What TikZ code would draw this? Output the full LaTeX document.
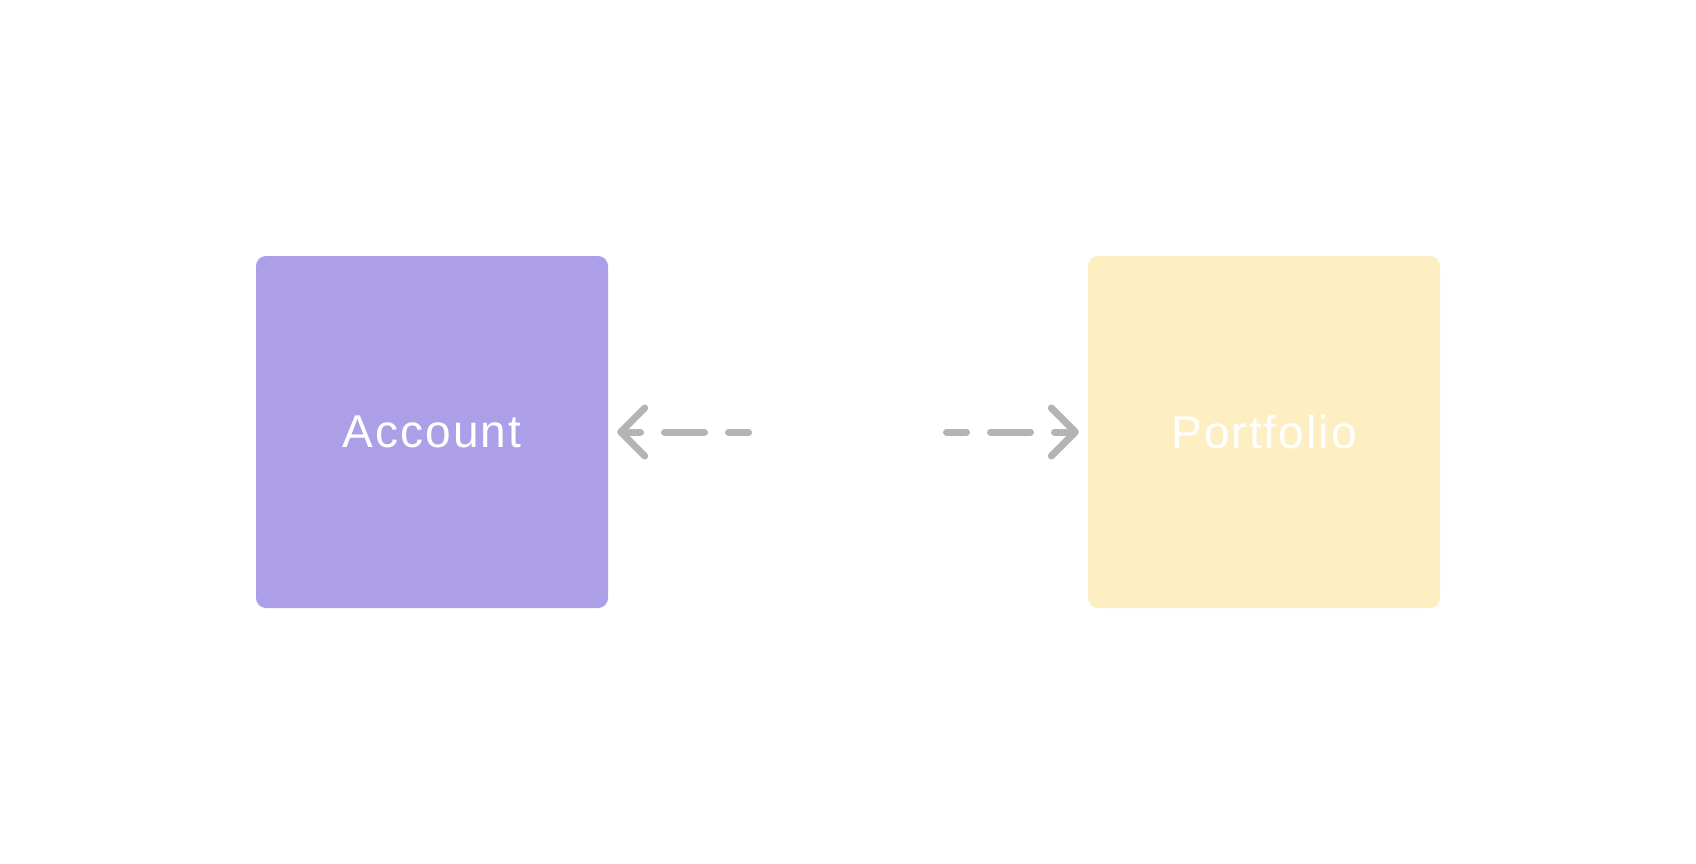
\documentclass[tikz,border=0pt]{standalone}
\usepackage{fontspec}
\setmainfont{Liberation Sans}[LetterSpace=4.5]
\usetikzlibrary{arrows.meta}
\definecolor{accfill}{HTML}{AC9FE7}
\definecolor{portfill}{HTML}{FEEFC2}
\definecolor{edgegray}{HTML}{B4B4B4}
\begin{document}
\begin{tikzpicture}[x=1pt,y=-1pt,
  entity/.style={rounded corners=10pt, minimum width=352pt, minimum height=352pt,
    inner sep=0pt, text=white, font=\fontsize{46}{55}\selectfont},
  link/.style={draw=edgegray, line width=7pt, line cap=round, line join=round,
    dash pattern=on 20pt off 24pt on 40pt off 24pt,
    -{Straight Barb[length=24pt, width=48pt, line cap=round, line join=round]},
    shorten >=9pt}]
\fill[white] (0,0) rectangle (1696,864);
\useasboundingbox (0,0) rectangle (1696,864);
\node[entity, fill=accfill] (acc) at (432,432) {Account};
\node[entity, fill=portfill] (port) at (1264,432) {Portfolio};
\coordinate (lm) at (748.5,432);
\coordinate (rm) at (946.5,432);
\draw[link] (lm) -- (acc.east);
\draw[link] (rm) -- (port.west);
\end{tikzpicture}
\end{document}
